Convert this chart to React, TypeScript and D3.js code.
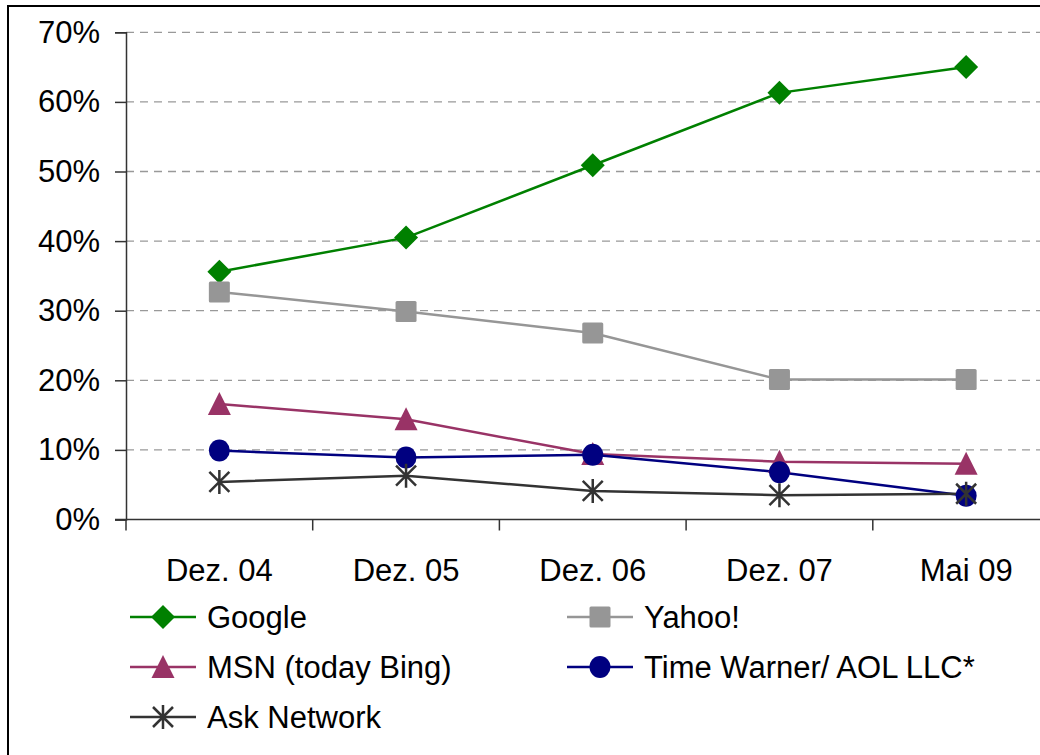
import React, { useEffect, useRef } from 'react';
import * as d3 from 'd3';

const categories = ['Dez. 04', 'Dez. 05', 'Dez. 06', 'Dez. 07', 'Mai 09'];
const yTicks = [0, 0.1, 0.2, 0.3, 0.4, 0.5, 0.6, 0.7];

const google = [0.356, 0.405, 0.509, 0.613, 0.65];
const yahoo = [0.327, 0.299, 0.268, 0.201, 0.201];
const msn = [0.166, 0.144, 0.094, 0.083, 0.08];
const timeWarner = [0.099, 0.089, 0.093, 0.068, 0.034];
const ask = [0.054, 0.063, 0.041, 0.035, 0.037];

const series = [
  { name: 'Google', values: google, color: '#008000', marker: 'diamond' },
  { name: 'Yahoo!', values: yahoo, color: '#969696', marker: 'square' },
  { name: 'MSN (today Bing)', values: msn, color: '#993366', marker: 'triangle' },
  { name: 'Time Warner/ AOL LLC*', values: timeWarner, color: '#000080', marker: 'circle' },
  { name: 'Ask Network', values: ask, color: '#333333', marker: 'star' }
];

const FONT = '"Liberation Sans", Arial, sans-serif';
const FS = 31;

function drawMarker(g, type, color) {
  if (type === 'diamond') {
    g.append('path').attr('d', 'M0,-12L12,0L0,12L-12,0Z').attr('fill', color);
  } else if (type === 'square') {
    g.append('rect').attr('x', -10.5).attr('y', -10.5).attr('width', 21).attr('height', 21)
      .attr('rx', 1.5).attr('fill', color);
  } else if (type === 'triangle') {
    g.append('path').attr('d', 'M0,-12L11.5,11L-11.5,11Z').attr('fill', color);
  } else if (type === 'circle') {
    g.append('ellipse').attr('rx', 10.5).attr('ry', 11).attr('fill', color);
  } else {
    g.append('path').attr('d', 'M0,-12L0,12M-10,-10L10,10M-10,10L10,-10')
      .attr('stroke', color).attr('stroke-width', 2.5).attr('fill', 'none');
  }
}

export default function App() {
  const ref = useRef(null);

  useEffect(() => {
    const svg = d3.select(ref.current);
    svg.selectAll('*').remove();

    const left = 126, top = 32.3, bottom = 519.5, band = 186.7;
    const x = d3.scaleBand().domain(categories).range([left, left + band * categories.length]);
    const y = d3.scaleLinear().domain([0, 0.7]).range([bottom, top]);
    const cx = d => x(d) + x.bandwidth() / 2;

    // frame
    svg.append('rect').attr('x', 8).attr('y', 6).attr('width', 1100).attr('height', 800)
      .attr('fill', 'white').attr('stroke', '#000').attr('stroke-width', 2);

    // gridlines
    svg.append('g').selectAll('line').data(yTicks.filter(t => t > 0)).enter().append('line')
      .attr('x1', left).attr('x2', 1100).attr('y1', d => y(d)).attr('y2', d => y(d))
      .attr('stroke', '#999').attr('stroke-width', 1.3).attr('stroke-dasharray', '8,6');

    // y axis
    const yAxis = d3.axisLeft(y).tickValues(yTicks).tickSize(11).tickPadding(15)
      .tickFormat(d3.format('.0%'));
    const ya = svg.append('g').attr('transform', `translate(${left},0)`).call(yAxis);
    ya.select('.domain').attr('stroke', '#333').attr('stroke-width', 1.5);
    ya.selectAll('.tick line').attr('stroke', '#333').attr('stroke-width', 1.5);
    ya.selectAll('.tick text').attr('font-family', FONT).attr('font-size', FS).attr('fill', '#000');

    // x axis
    const xAxis = d3.axisBottom(x).tickSize(0).tickPadding(0);
    const xa = svg.append('g').attr('transform', `translate(0,${bottom})`).call(xAxis);
    xa.select('.domain').attr('d', `M${left - 11},0H1100`).attr('stroke', '#333').attr('stroke-width', 1.5);
    xa.selectAll('.tick text').attr('font-family', FONT).attr('font-size', FS).attr('fill', '#000')
      .attr('dy', 0).attr('y', 61);
    svg.append('g').selectAll('line').data(d3.range(categories.length + 1)).enter().append('line')
      .attr('x1', i => left + i * x.step()).attr('x2', i => left + i * x.step())
      .attr('y1', bottom).attr('y2', bottom + 11).attr('stroke', '#333').attr('stroke-width', 1.5);

    // series
    const line = d3.line().x((d, i) => cx(categories[i])).y(d => y(d));
    series.forEach(s => {
      svg.append('path').datum(s.values).attr('d', line).attr('fill', 'none')
        .attr('stroke', s.color).attr('stroke-width', 2.5);
    });
    series.forEach(s => {
      s.values.forEach((v, i) => {
        const g = svg.append('g').attr('transform', `translate(${cx(categories[i])},${y(v)})`);
        drawMarker(g, s.marker, s.color);
      });
    });

    // legend
    const legendPos = [[130, 617], [567, 617], [130, 667], [567, 667], [130, 717]];
    series.forEach((s, i) => {
      const [lx, ly] = legendPos[i];
      const g = svg.append('g').attr('transform', `translate(${lx},${ly})`);
      g.append('line').attr('x1', 0).attr('x2', 66).attr('stroke', s.color).attr('stroke-width', 2.5);
      const m = g.append('g').attr('transform', 'translate(33,0)');
      drawMarker(m, s.marker, s.color);
      g.append('text').attr('x', 77).attr('dy', '0.35em').attr('font-family', FONT)
        .attr('font-size', FS).attr('fill', '#000').text(s.name);
    });
  }, []);

  return (
    <svg ref={ref} width={1040} height={755}
      style={{ position: 'absolute', left: 0, top: 0, display: 'block' }} />
  );
}
